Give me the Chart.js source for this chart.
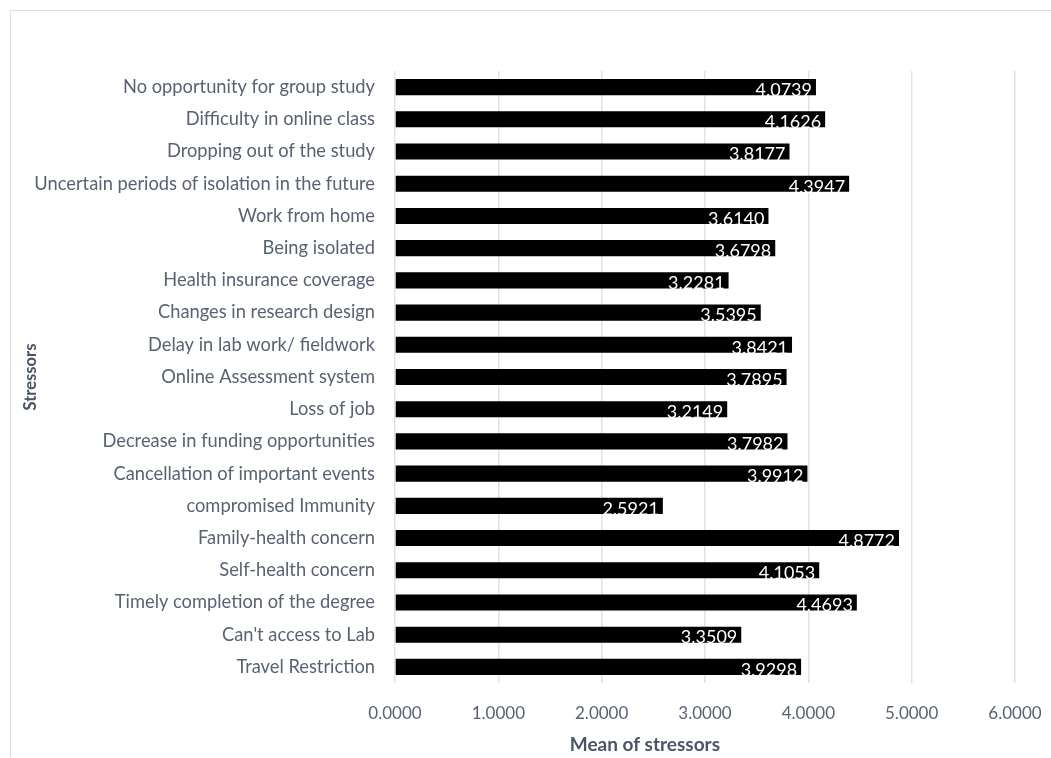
<!DOCTYPE html>
<html>
<head>
<meta charset="utf-8">
<script src="https://cdn.jsdelivr.net/npm/chart.js@4.4.0/dist/chart.umd.min.js"></script>
<style>
  html, body { margin: 0; padding: 0; background: #fff; overflow: hidden; }
  #wrap { position: relative; width: 1051px; height: 758px; }
  #frame { position: absolute; left: 10px; top: 10px; width: 1100px; height: 800px; border: 1px solid #dcdfe7; box-sizing: border-box; }
  canvas { position: absolute; left: 0; top: 0; }
</style>
</head>
<body>
<div id="wrap">
  <div id="frame"></div>
  <canvas id="c" width="1051" height="758"></canvas>
</div>
<script>
const categories = [
  "No opportunity for group study",
  "Difficulty in online class",
  "Dropping out of the study",
  "Uncertain periods of isolation in the future",
  "Work from home",
  "Being isolated",
  "Health insurance coverage",
  "Changes in research design",
  "Delay in lab work/ fieldwork",
  "Online Assessment system",
  "Loss of job",
  "Decrease in funding opportunities",
  "Cancellation of important events",
  "compromised Immunity",
  "Family-health concern",
  "Self-health concern",
  "Timely completion of the degree",
  "Can't access to Lab",
  "Travel Restriction"
];
const meanValues = [
  4.0739, 4.1626, 3.8177, 4.3947, 3.6140, 3.6798, 3.2281, 3.5395, 3.8421, 3.7895,
  3.2149, 3.7982, 3.9912, 2.5921, 4.8772, 4.1053, 4.4693, 3.3509, 3.9298
];
const xTickMin = 0, xTickMax = 6, xTickStep = 1;
const xTitle = "Mean of stressors";
const yTitle = "Stressors";

const FONT = "Lato, 'Open Sans', sans-serif";
const labelColor = "#596273";
const titleColor = "#4a5466";

const valueLabels = {
  id: 'valueLabels',
  afterDatasetsDraw(chart) {
    const ctx = chart.ctx;
    const meta = chart.getDatasetMeta(0);
    ctx.save();
    ctx.font = "18px " + FONT;
    ctx.fillStyle = "#ffffff";
    ctx.textAlign = "right";
    ctx.textBaseline = "middle";
    meta.data.forEach((bar, i) => {
      const p = bar.getProps(['x', 'y'], true);
      ctx.fillText(meanValues[i].toFixed(4), p.x - 4, p.y + 3);
    });
    ctx.restore();
  }
};

// x-axis title, placed left of centre as in the original chart
const xAxisTitle = {
  id: 'xAxisTitle',
  afterDraw(chart) {
    const ctx = chart.ctx;
    const xs = chart.scales.x;
    ctx.save();
    ctx.font = "bold 19px " + FONT;
    ctx.fillStyle = titleColor;
    ctx.textAlign = "center";
    ctx.textBaseline = "middle";
    ctx.fillText(xTitle, xs.left + (xs.right - xs.left) * 0.403, xs.bottom - 9);
    ctx.restore();
  }
};

new Chart(document.getElementById('c'), {
  type: 'bar',
  data: {
    labels: categories,
    datasets: [{
      data: meanValues,
      backgroundColor: '#000000',
      borderWidth: 0,
      categoryPercentage: 1.0,
      barPercentage: 0.5
    }]
  },
  options: {
    indexAxis: 'y',
    responsive: false,
    animation: false,
    devicePixelRatio: 1,
    layout: { padding: { left: 10, top: 71, right: 36, bottom: 4 } },
    plugins: { legend: { display: false }, tooltip: { enabled: false } },
    scales: {
      x: {
        min: xTickMin, max: xTickMax,
        ticks: {
          stepSize: xTickStep,
          callback: v => Number(v).toFixed(4),
          color: labelColor,
          font: { family: FONT, size: 17 },
          padding: 2,
          maxRotation: 0
        },
        grid: { color: '#dfe2e9', lineWidth: 1.5, drawTicks: true, tickLength: 18, tickColor: 'rgba(0,0,0,0)' },
        border: { display: false },
        title: { display: false },
        afterFit(scale) { scale.height = 71; }
      },
      y: {
        ticks: {
          color: labelColor,
          font: { family: FONT, size: 18.3 },
          padding: 20,
          autoSkip: false
        },
        grid: { display: false, drawTicks: false },
        border: { display: false },
        title: {
          display: true, text: yTitle, color: titleColor,
          font: { family: FONT, size: 16.5, weight: 'bold' },
          padding: { top: 11, bottom: 0 }
        },
        afterFit(scale) { scale.width = 385; }
      }
    }
  },
  plugins: [valueLabels, xAxisTitle]
});
</script>
</body>
</html>
